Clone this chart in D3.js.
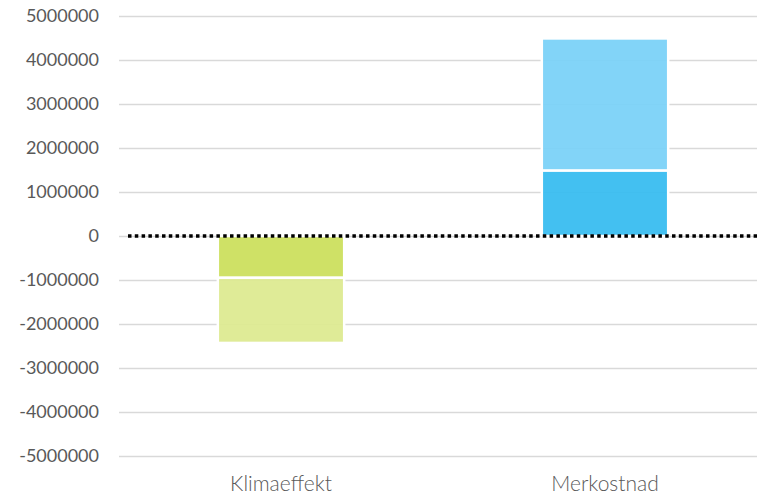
<!DOCTYPE html>
<html>
<head>
<meta charset="utf-8">
<script src="https://cdn.jsdelivr.net/npm/d3@7"></script>
<style>
  body { margin: 0; background: #fff; }
  svg { display: block; }
</style>
</head>
<body>
<svg id="chart" width="764" height="497"></svg>
<script>
// categories and stacked segments (each segment stacks away from zero)
const categories = ["Klimaeffekt", "Merkostnad"];
const innerValues = [-950000, 1490000];   // darker segment next to zero
const outerValues = [-1480000, 3000000];  // lighter segment on top
const innerColors = ["#cbdf5a", "#35bbf0"];
const outerColors = ["#dde98f", "#78d1f7"];
const yTicks = [5000000, 4000000, 3000000, 2000000, 1000000, 0,
  -1000000, -2000000, -3000000, -4000000, -5000000];

const svg = d3.select("#chart");
const width = 764, height = 497;
const margin = { top: 16, right: 7, bottom: 41, left: 119 };

const yScale = d3.scaleLinear()
  .domain([-5000000, 5000000])
  .range([height - margin.bottom, margin.top]);

const xScale = d3.scaleBand()
  .domain(categories)
  .range([margin.left, width + 3])
  .paddingInner(0.61)
  .paddingOuter(0.305);

// gridlines + y labels
const yAxis = svg.append("g")
  .attr("transform", `translate(${margin.left},0)`)
  .call(d3.axisLeft(yScale)
    .tickValues(yTicks)
    .tickFormat(d => String(d))
    .tickSize(-(width - margin.left - margin.right))
    .tickPadding(20));
yAxis.select(".domain").remove();
yAxis.selectAll(".tick line").attr("stroke", "#d9d9d9").attr("stroke-width", 1.5);
yAxis.selectAll(".tick text")
  .attr("fill", "#595959")
  .style("font-family", "Lato, sans-serif")
  .style("font-size", "18px");

// build segment table
const segments = [];
categories.forEach((c, i) => {
  segments.push({ cat: c, y0: 0, y1: innerValues[i], color: innerColors[i] });
  segments.push({ cat: c, y0: innerValues[i], y1: innerValues[i] + outerValues[i], color: outerColors[i] });
});

svg.selectAll(".bar")
  .data(segments)
  .enter().append("rect")
  .attr("class", "bar")
  .attr("x", d => xScale(d.cat))
  .attr("y", d => yScale(Math.max(d.y0, d.y1)))
  .attr("width", xScale.bandwidth())
  .attr("height", d => Math.abs(yScale(d.y0) - yScale(d.y1)))
  .attr("fill", d => d.color)
  .attr("fill-opacity", 0.93)
  .attr("stroke", "#fff")
  .attr("stroke-width", 2.5);

// dotted zero line
svg.append("line")
  .attr("x1", 128)
  .attr("x2", width - margin.right)
  .attr("y1", yScale(0))
  .attr("y2", yScale(0))
  .attr("stroke", "#000")
  .attr("stroke-width", 3.5)
  .attr("stroke-dasharray", "3.5,3.3");

// category labels
svg.append("g")
  .selectAll("text")
  .data(categories)
  .enter().append("text")
  .attr("x", d => xScale(d) + xScale.bandwidth() / 2)
  .attr("y", 491)
  .attr("text-anchor", "middle")
  .attr("fill", "#595959")
  .style("font-family", "Lato, sans-serif")
  .style("font-weight", 300)
  .style("font-size", "21px")
  .text(d => d);
</script>
</body>
</html>
